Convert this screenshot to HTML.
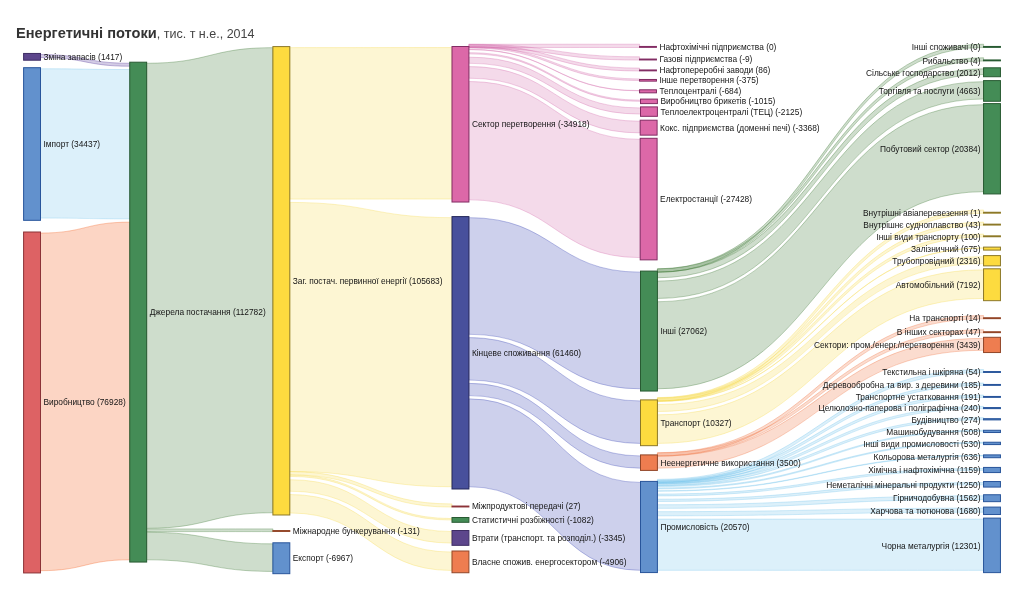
<!DOCTYPE html>
<html lang="uk"><head><meta charset="utf-8"><title>Енергетичні потоки</title>
<style>
html,body{margin:0;padding:0;background:#fff}
body{width:1024px;height:607px;overflow:hidden;position:relative;font-family:"Liberation Sans",sans-serif}
h1{will-change:transform;position:absolute;left:16.3px;top:25.2px;margin:0;font-size:14.62px;line-height:17px;font-weight:bold;color:#333;white-space:nowrap}
h1 span{font-weight:normal;font-size:12.53px;color:#444}
svg{position:absolute;left:0;top:0;will-change:transform}
svg text{font-family:"Liberation Sans",sans-serif;font-size:8.35px;fill:#151515}
.links path{fill-opacity:0.25;stroke-opacity:0.45;stroke-width:0.72}
.nodes rect{stroke-width:1.0;shape-rendering:auto}
.n-purple{fill:#5d468c;stroke:#3e2d64}
.l-purple{fill:rgb(80,50,150);stroke:rgb(80,50,150)}
.n-blue{fill:#6291cd;stroke:#28559b}
.l-blue{fill:rgb(115,195,235);stroke:rgb(115,195,235)}
.n-red{fill:#dd6264;stroke:#8c3237}
.l-red{fill:rgb(243,87,19);stroke:rgb(243,87,19)}
.n-green{fill:#448c56;stroke:#285a32}
.l-green{fill:rgb(59,119,51);stroke:rgb(59,119,51)}
.n-yellow{fill:#fddb3f;stroke:#8c7828}
.l-yellow{fill:rgb(247,219,79);stroke:rgb(247,219,79)}
.n-pink{fill:#dc68a8;stroke:#822d64}
.l-pink{fill:rgb(211,107,171);stroke:rgb(211,107,171)}
.n-navy{fill:#48509c;stroke:#23265a}
.l-navy{fill:rgb(55,67,179);stroke:rgb(55,67,179)}
.n-orange{fill:#ee7d50;stroke:#914628}
.l-orange{fill:rgb(238,115,65);stroke:rgb(238,115,65)}
</style></head><body>
<h1>Енергетичні потоки<span>, тис. т н.е., 2014</span></h1>
<svg width="1024" height="607" viewBox="0 0 1024 607">
<g class="links">
<path class="l-purple" d="M40.5,54.5C85.12,54.5 85.12,63.25 129.75,63.25L129.75,66.23C85.12,66.23 85.12,57.48 40.5,57.48Z"/>
<path class="l-blue" d="M40.5,68.75C85.12,68.75 85.12,69.53 129.75,69.53L129.75,218.85C85.12,218.85 85.12,218.07 40.5,218.07Z"/>
<path class="l-red" d="M40.5,233.05C85.12,233.05 85.12,222.15 129.75,222.15L129.75,559.8C85.12,559.8 85.12,570.69 40.5,570.69Z"/>
<path class="l-green" d="M146.65,63.25C209.77,63.25 209.77,47.65 272.9,47.65L272.9,512.74C209.77,512.74 209.77,528.34 146.65,528.34Z"/>
<path class="l-green" d="M146.65,528.92C209.77,528.92 209.77,528.88 272.9,528.88L272.9,531.6C209.77,531.6 209.77,531.64 146.65,531.64Z"/>
<path class="l-green" d="M146.65,532.22C209.77,532.22 209.77,543.85 272.9,543.85L272.9,571.43C209.77,571.43 209.77,559.8 146.65,559.8Z"/>
<path class="l-yellow" d="M289.8,47.65C370.9,47.65 370.9,47.55 452,47.55L452,199.01C370.9,199.01 370.9,199.11 289.8,199.11Z"/>
<path class="l-yellow" d="M289.8,202.41C370.9,202.41 370.9,217.65 452,217.65L452,486.74C370.9,486.74 370.9,471.5 289.8,471.5Z"/>
<path class="l-yellow" d="M289.8,471.62C370.9,471.62 370.9,503.92 452,503.92L452,507.1C370.9,507.1 370.9,474.8 289.8,474.8Z"/>
<path class="l-yellow" d="M289.8,474.92C370.9,474.92 370.9,518.55 452,518.55L452,520.05C370.9,520.05 370.9,476.41 289.8,476.41Z"/>
<path class="l-yellow" d="M289.8,479.71C370.9,479.71 370.9,531.55 452,531.55L452,543.08C370.9,543.08 370.9,491.24 289.8,491.24Z"/>
<path class="l-yellow" d="M289.8,494.54C370.9,494.54 370.9,552.05 452,552.05L452,570.49C370.9,570.49 370.9,512.98 289.8,512.98Z"/>
<path class="l-pink" d="M468.9,44.25C554.22,44.25 554.22,44.2 639.55,44.2L639.55,47.5C554.22,47.5 554.22,47.55 468.9,47.55Z"/>
<path class="l-pink" d="M468.9,44.29C554.22,44.29 554.22,56.84 639.55,56.84L639.55,60.1C554.22,60.1 554.22,47.55 468.9,47.55Z"/>
<path class="l-pink" d="M468.9,44.67C554.22,44.67 554.22,68.08 639.55,68.08L639.55,71C554.22,71 554.22,47.59 468.9,47.59Z"/>
<path class="l-pink" d="M468.9,46.33C554.22,46.33 554.22,78.88 639.55,78.88L639.55,80.52C554.22,80.52 554.22,47.97 468.9,47.97Z"/>
<path class="l-pink" d="M468.9,49.36C554.22,49.36 554.22,90.58 639.55,90.58L639.55,90.85C554.22,90.85 554.22,49.63 468.9,49.63Z"/>
<path class="l-pink" d="M468.9,52.66C554.7,52.66 554.7,100.15 640.5,100.15L640.5,101.35C554.7,101.35 554.7,53.86 468.9,53.86Z"/>
<path class="l-pink" d="M468.9,57.16C554.7,57.16 554.7,107.95 640.5,107.95L640.5,114.07C554.7,114.07 554.7,63.28 468.9,63.28Z"/>
<path class="l-pink" d="M468.9,66.58C554.55,66.58 554.55,121.25 640.2,121.25L640.2,132.88C554.55,132.88 554.55,78.21 468.9,78.21Z"/>
<path class="l-pink" d="M468.9,81.51C554.55,81.51 554.55,139.35 640.2,139.35L640.2,257.61C554.55,257.61 554.55,199.77 468.9,199.77Z"/>
<path class="l-navy" d="M468.9,217.65C554.7,217.65 554.7,272.15 640.5,272.15L640.5,388.79C554.7,388.79 554.7,334.29 468.9,334.29Z"/>
<path class="l-navy" d="M468.9,337.59C554.7,337.59 554.7,400.95 640.5,400.95L640.5,443.42C554.7,443.42 554.7,380.06 468.9,380.06Z"/>
<path class="l-navy" d="M468.9,383.36C554.7,383.36 554.7,455.95 640.5,455.95L640.5,468.16C554.7,468.16 554.7,395.57 468.9,395.57Z"/>
<path class="l-navy" d="M468.9,398.87C554.7,398.87 554.7,482.45 640.5,482.45L640.5,570.32C554.7,570.32 554.7,486.74 468.9,486.74Z"/>
<path class="l-green" d="M657.4,268.85C820.47,268.85 820.47,44.2 983.55,44.2L983.55,47.5C820.47,47.5 820.47,272.15 657.4,272.15Z"/>
<path class="l-green" d="M657.4,268.87C820.47,268.87 820.47,57.72 983.55,57.72L983.55,61C820.47,61 820.47,272.15 657.4,272.15Z"/>
<path class="l-green" d="M657.4,272.17C820.47,272.17 820.47,68.85 983.55,68.85L983.55,74.47C820.47,74.47 820.47,277.78 657.4,277.78Z"/>
<path class="l-green" d="M657.4,281.08C820.47,281.08 820.47,81.65 983.55,81.65L983.55,99.02C820.47,99.02 820.47,298.45 657.4,298.45Z"/>
<path class="l-green" d="M657.4,301.75C820.47,301.75 820.47,104.65 983.55,104.65L983.55,191.69C820.47,191.69 820.47,388.79 657.4,388.79Z"/>
<path class="l-yellow" d="M657.4,397.65C820.47,397.65 820.47,210 983.55,210L983.55,213.3C820.47,213.3 820.47,400.95 657.4,400.95Z"/>
<path class="l-yellow" d="M657.4,397.85C820.47,397.85 820.47,222.09 983.55,222.09L983.55,225.2C820.47,225.2 820.47,400.95 657.4,400.95Z"/>
<path class="l-yellow" d="M657.4,398.29C820.47,398.29 820.47,234.04 983.55,234.04L983.55,236.9C820.47,236.9 820.47,401.15 657.4,401.15Z"/>
<path class="l-yellow" d="M657.4,401.28C820.47,401.28 820.47,247.85 983.55,247.85L983.55,248.15C820.47,248.15 820.47,401.59 657.4,401.59Z"/>
<path class="l-yellow" d="M657.4,404.58C820.47,404.58 820.47,256.65 983.55,256.65L983.55,263.61C820.47,263.61 820.47,411.54 657.4,411.54Z"/>
<path class="l-yellow" d="M657.4,414.84C820.47,414.84 820.47,269.85 983.55,269.85L983.55,298.42C820.47,298.42 820.47,443.42 657.4,443.42Z"/>
<path class="l-orange" d="M657.4,452.71C820.47,452.71 820.47,315.56 983.55,315.56L983.55,318.8C820.47,318.8 820.47,455.95 657.4,455.95Z"/>
<path class="l-orange" d="M657.4,452.92C820.47,452.92 820.47,329.71 983.55,329.71L983.55,332.8C820.47,332.8 820.47,456.01 657.4,456.01Z"/>
<path class="l-orange" d="M657.4,456.22C820.47,456.22 820.47,338.35 983.55,338.35L983.55,350.29C820.47,350.29 820.47,468.16 657.4,468.16Z"/>
<path class="l-blue" d="M657.4,479.39C820.47,479.39 820.47,369.54 983.55,369.54L983.55,372.6C820.47,372.6 820.47,482.45 657.4,482.45Z"/>
<path class="l-blue" d="M657.4,480.21C820.47,480.21 820.47,383.02 983.55,383.02L983.55,385.5C820.47,385.5 820.47,482.69 657.4,482.69Z"/>
<path class="l-blue" d="M657.4,481.06C820.47,481.06 820.47,395.05 983.55,395.05L983.55,397.5C820.47,397.5 820.47,483.51 657.4,483.51Z"/>
<path class="l-blue" d="M657.4,482.12C820.47,482.12 820.47,406.38 983.55,406.38L983.55,408.62C820.47,408.62 820.47,484.36 657.4,484.36Z"/>
<path class="l-blue" d="M657.4,483.33C820.47,483.33 820.47,417.66 983.55,417.66L983.55,419.74C820.47,419.74 820.47,485.42 657.4,485.42Z"/>
<path class="l-blue" d="M657.4,485.59C820.47,485.59 820.47,430.28 983.55,430.28L983.55,431.32C820.47,431.32 820.47,486.63 657.4,486.63Z"/>
<path class="l-blue" d="M657.4,487.93C820.47,487.93 820.47,442.32 983.55,442.32L983.55,443.28C820.47,443.28 820.47,488.89 657.4,488.89Z"/>
<path class="l-blue" d="M657.4,490.75C820.47,490.75 820.47,455.46 983.55,455.46L983.55,455.94C820.47,455.94 820.47,491.23 657.4,491.23Z"/>
<path class="l-blue" d="M657.4,494.05C820.47,494.05 820.47,468.48 983.55,468.48L983.55,470.32C820.47,470.32 820.47,495.89 657.4,495.89Z"/>
<path class="l-blue" d="M657.4,499.19C820.47,499.19 820.47,482.58 983.55,482.58L983.55,484.82C820.47,484.82 820.47,501.43 657.4,501.43Z"/>
<path class="l-blue" d="M657.4,504.73C820.47,504.73 820.47,495.79 983.55,495.79L983.55,499.41C820.47,499.41 820.47,508.35 657.4,508.35Z"/>
<path class="l-blue" d="M657.4,511.65C820.47,511.65 820.47,508.13 983.55,508.13L983.55,512.27C820.47,512.27 820.47,515.8 657.4,515.8Z"/>
<path class="l-blue" d="M657.4,519.1C820.47,519.1 820.47,519.15 983.55,519.15L983.55,570.37C820.47,570.37 820.47,570.32 657.4,570.32Z"/>
</g>
<g class="nodes">
<rect class="n-purple" x="23.6" y="53.45" width="16.9" height="6.75"/>
<rect class="n-blue" x="23.6" y="67.7" width="16.9" height="152.62"/>
<rect class="n-red" x="23.6" y="232" width="16.9" height="340.94"/>
<rect class="n-green" x="129.75" y="62.2" width="16.9" height="499.85"/>
<rect class="n-yellow" x="272.9" y="46.6" width="16.9" height="468.39"/>
<rect class="n-orange" x="272.9" y="530.55" width="16.9" height="0.9"/>
<rect class="n-blue" x="272.9" y="542.8" width="16.9" height="30.88"/>
<rect class="n-pink" x="452" y="46.5" width="16.9" height="155.52"/>
<rect class="n-navy" x="452" y="216.6" width="16.9" height="272.39"/>
<rect class="n-red" x="452" y="506.05" width="16.9" height="0.9"/>
<rect class="n-green" x="452" y="517.5" width="16.9" height="4.8"/>
<rect class="n-purple" x="452" y="530.5" width="16.9" height="14.83"/>
<rect class="n-orange" x="452" y="551" width="16.9" height="21.74"/>
<rect class="n-pink" x="639.55" y="46.45" width="16.9" height="0.9"/>
<rect class="n-pink" x="639.55" y="59.05" width="16.9" height="0.9"/>
<rect class="n-pink" x="639.55" y="69.95" width="16.9" height="0.9"/>
<rect class="n-pink" x="639.55" y="79.47" width="16.9" height="1.66"/>
<rect class="n-pink" x="639.55" y="89.8" width="16.9" height="3.03"/>
<rect class="n-pink" x="640.5" y="99.1" width="16.9" height="4.5"/>
<rect class="n-pink" x="640.5" y="106.9" width="16.9" height="9.42"/>
<rect class="n-pink" x="640.2" y="120.2" width="16.9" height="14.93"/>
<rect class="n-pink" x="640.2" y="138.3" width="16.9" height="121.56"/>
<rect class="n-green" x="640.5" y="271.1" width="16.9" height="119.94"/>
<rect class="n-yellow" x="640.5" y="399.9" width="16.9" height="45.77"/>
<rect class="n-orange" x="640.5" y="454.9" width="16.9" height="15.51"/>
<rect class="n-blue" x="640.5" y="481.4" width="16.9" height="91.17"/>
<rect class="n-green" x="983.55" y="46.45" width="16.9" height="0.9"/>
<rect class="n-green" x="983.55" y="59.95" width="16.9" height="0.9"/>
<rect class="n-green" x="983.55" y="67.8" width="16.9" height="8.92"/>
<rect class="n-green" x="983.55" y="80.6" width="16.9" height="20.67"/>
<rect class="n-green" x="983.55" y="103.6" width="16.9" height="90.34"/>
<rect class="n-yellow" x="983.55" y="212.25" width="16.9" height="0.9"/>
<rect class="n-yellow" x="983.55" y="224.15" width="16.9" height="0.9"/>
<rect class="n-yellow" x="983.55" y="235.85" width="16.9" height="0.9"/>
<rect class="n-yellow" x="983.55" y="247.1" width="16.9" height="2.99"/>
<rect class="n-yellow" x="983.55" y="255.6" width="16.9" height="10.26"/>
<rect class="n-yellow" x="983.55" y="268.8" width="16.9" height="31.87"/>
<rect class="n-orange" x="983.55" y="317.75" width="16.9" height="0.9"/>
<rect class="n-orange" x="983.55" y="331.75" width="16.9" height="0.9"/>
<rect class="n-orange" x="983.55" y="337.3" width="16.9" height="15.24"/>
<rect class="n-blue" x="983.55" y="371.55" width="16.9" height="0.9"/>
<rect class="n-blue" x="983.55" y="384.45" width="16.9" height="0.9"/>
<rect class="n-blue" x="983.55" y="396.45" width="16.9" height="0.9"/>
<rect class="n-blue" x="983.55" y="407.57" width="16.9" height="1.06"/>
<rect class="n-blue" x="983.55" y="418.69" width="16.9" height="1.21"/>
<rect class="n-blue" x="983.55" y="430.27" width="16.9" height="2.25"/>
<rect class="n-blue" x="983.55" y="442.23" width="16.9" height="2.35"/>
<rect class="n-blue" x="983.55" y="454.89" width="16.9" height="2.82"/>
<rect class="n-blue" x="983.55" y="467.43" width="16.9" height="5.14"/>
<rect class="n-blue" x="983.55" y="481.53" width="16.9" height="5.54"/>
<rect class="n-blue" x="983.55" y="494.74" width="16.9" height="6.92"/>
<rect class="n-blue" x="983.55" y="507.08" width="16.9" height="7.45"/>
<rect class="n-blue" x="983.55" y="518.1" width="16.9" height="54.52"/>
</g>
<g class="labels">
<text x="43.5" y="56.83" dy=".35em">Зміна запасів (1417)</text>
<text x="43.5" y="144.01" dy=".35em">Імпорт (34437)</text>
<text x="43.5" y="402.47" dy=".35em">Виробництво (76928)</text>
<text x="149.65" y="312.12" dy=".35em">Джерела постачання (112782)</text>
<text x="292.8" y="280.79" dy=".35em">Заг. постач. первинної енергії (105683)</text>
<text x="292.8" y="531" dy=".35em">Міжнародне бункерування (-131)</text>
<text x="292.8" y="558.24" dy=".35em">Експорт (-6967)</text>
<text x="471.9" y="124.26" dy=".35em">Сектор перетворення (-34918)</text>
<text x="471.9" y="352.8" dy=".35em">Кінцеве споживання (61460)</text>
<text x="471.9" y="506.5" dy=".35em">Міжпродуктові передачі (27)</text>
<text x="471.9" y="519.9" dy=".35em">Статистичні розбіжності (-1082)</text>
<text x="471.9" y="537.91" dy=".35em">Втрати (транспорт. та розподіл.) (-3345)</text>
<text x="471.9" y="561.87" dy=".35em">Власне спожив. енергосектором (-4906)</text>
<text x="659.45" y="46.9" dy=".35em">Нафтохімічні підприємства (0)</text>
<text x="659.45" y="59.5" dy=".35em">Газові підприємства (-9)</text>
<text x="659.45" y="70.4" dy=".35em">Нафтопереробні заводи (86)</text>
<text x="659.45" y="80.3" dy=".35em">Інше перетворення (-375)</text>
<text x="659.45" y="91.32" dy=".35em">Теплоцентралі (-684)</text>
<text x="660.4" y="101.35" dy=".35em">Виробництво брикетів (-1015)</text>
<text x="660.4" y="111.61" dy=".35em">Теплоелектроцентралі (ТЕЦ) (-2125)</text>
<text x="660.1" y="127.66" dy=".35em">Кокс. підприємства (доменні печі) (-3368)</text>
<text x="660.1" y="199.08" dy=".35em">Електростанції (-27428)</text>
<text x="660.4" y="331.07" dy=".35em">Інші (27062)</text>
<text x="660.4" y="422.78" dy=".35em">Транспорт (10327)</text>
<text x="660.4" y="462.66" dy=".35em">Неенергетичне використання (3500)</text>
<text x="660.4" y="526.98" dy=".35em">Промисловість (20570)</text>
<text x="980.55" y="47.25" dy=".35em" text-anchor="end">Інші споживачі (0)</text>
<text x="980.55" y="60.75" dy=".35em" text-anchor="end">Рибальство (4)</text>
<text x="980.55" y="72.61" dy=".35em" text-anchor="end">Сільське господарство (2012)</text>
<text x="980.55" y="91.28" dy=".35em" text-anchor="end">Торгівля та послуги (4663)</text>
<text x="980.55" y="149.12" dy=".35em" text-anchor="end">Побутовий сектор (20384)</text>
<text x="980.55" y="213.05" dy=".35em" text-anchor="end">Внутрішні авіаперевезення (1)</text>
<text x="980.55" y="224.95" dy=".35em" text-anchor="end">Внутрішнє судноплавство (43)</text>
<text x="980.55" y="236.65" dy=".35em" text-anchor="end">Інші види транспорту (100)</text>
<text x="980.55" y="248.95" dy=".35em" text-anchor="end">Залізничний (675)</text>
<text x="980.55" y="261.08" dy=".35em" text-anchor="end">Трубопровідний (2316)</text>
<text x="980.55" y="285.09" dy=".35em" text-anchor="end">Автомобільний (7192)</text>
<text x="980.55" y="318.55" dy=".35em" text-anchor="end">На транспорті (14)</text>
<text x="980.55" y="332.55" dy=".35em" text-anchor="end">В інших секторах (47)</text>
<text x="980.55" y="345.27" dy=".35em" text-anchor="end">Сектори: пром./енерг./перетворення (3439)</text>
<text x="980.55" y="372.35" dy=".35em" text-anchor="end">Текстильна і шкіряна (54)</text>
<text x="980.55" y="385.25" dy=".35em" text-anchor="end">Деревообробна та вир. з деревини (185)</text>
<text x="980.55" y="397.25" dy=".35em" text-anchor="end">Транспортне устатковання (191)</text>
<text x="980.55" y="408.45" dy=".35em" text-anchor="end">Целюлозно-паперова і поліграфічна (240)</text>
<text x="980.55" y="419.65" dy=".35em" text-anchor="end">Будівництво (274)</text>
<text x="980.55" y="431.75" dy=".35em" text-anchor="end">Машинобудування (508)</text>
<text x="980.55" y="443.75" dy=".35em" text-anchor="end">Інші види промисловості (530)</text>
<text x="980.55" y="456.65" dy=".35em" text-anchor="end">Кольорова металургія (636)</text>
<text x="980.55" y="470.35" dy=".35em" text-anchor="end">Хімічна і нафтохімічна (1159)</text>
<text x="980.55" y="484.65" dy=".35em" text-anchor="end">Неметалічні мінеральні продукти (1250)</text>
<text x="980.55" y="498.55" dy=".35em" text-anchor="end">Гірничодобувна (1562)</text>
<text x="980.55" y="511.15" dy=".35em" text-anchor="end">Харчова та тютюнова (1680)</text>
<text x="980.55" y="545.71" dy=".35em" text-anchor="end">Чорна металургія (12301)</text>
</g>
</svg>
</body></html>
